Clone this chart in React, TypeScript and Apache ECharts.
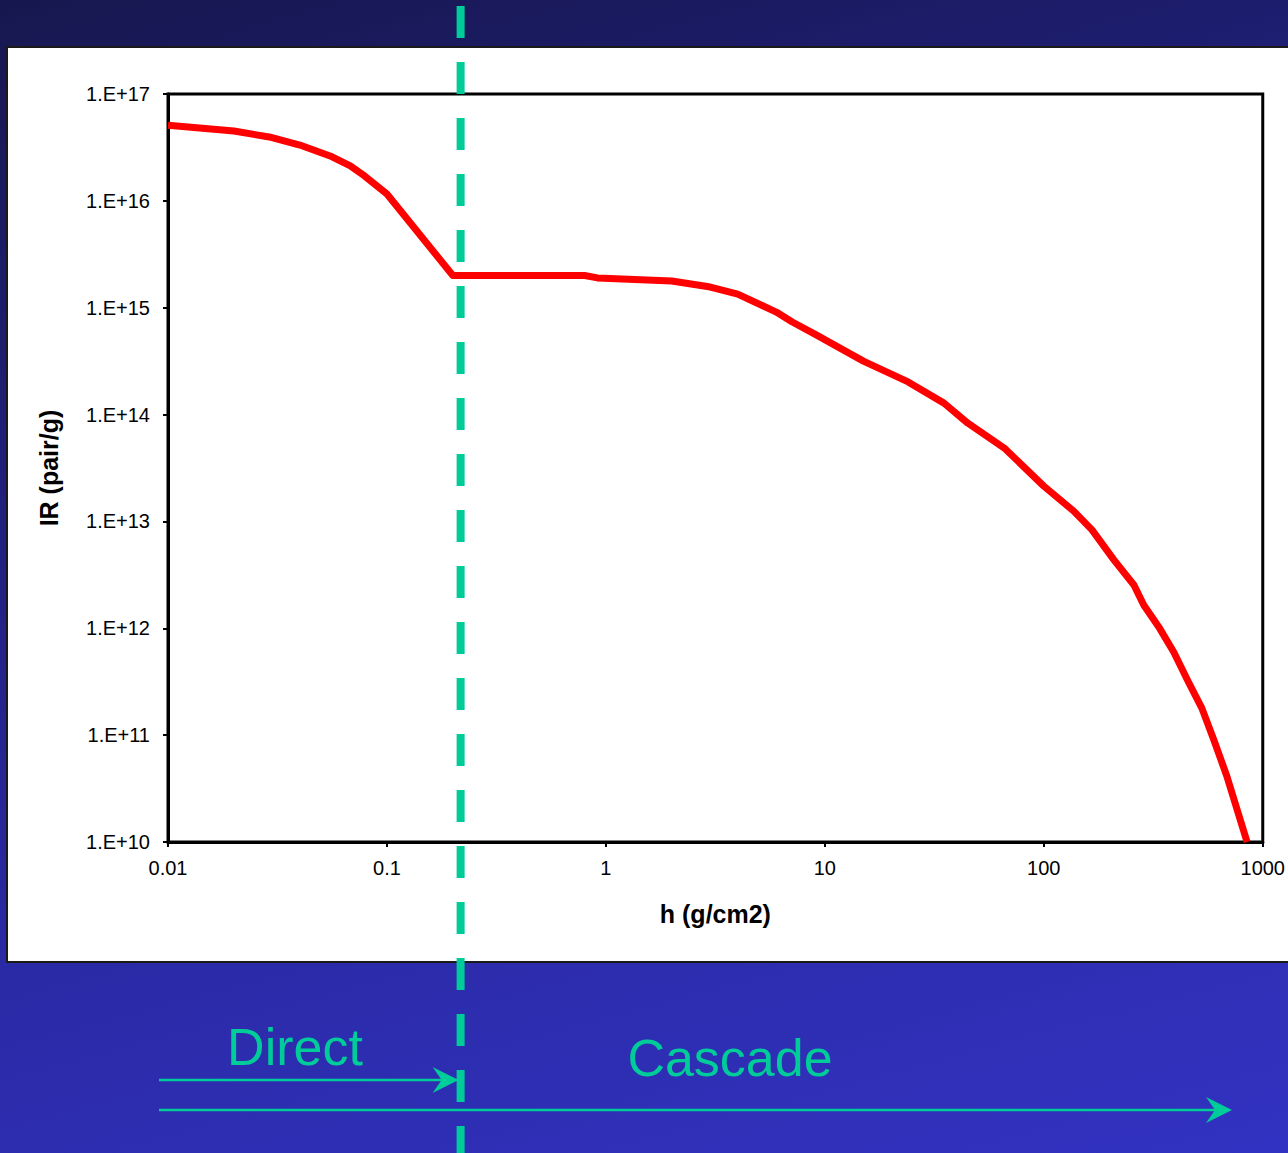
import React, { useEffect, useRef } from 'react';
import * as echarts from 'echarts';

// ---- data ----
const hValues = [0.01, 0.02, 0.029, 0.04, 0.055, 0.068, 0.079, 0.1, 0.2, 0.8, 0.915, 2, 3, 4, 6, 7.1, 9, 15, 24, 35, 45, 66, 100, 137, 166, 209, 258, 286, 335, 392, 460, 527, 598, 685, 777, 848];
const irValues = [5.1e16, 4.5e16, 3.96e16, 3.33e16, 2.63e16, 2.12e16, 1.71e16, 1.16e16, 2.0e15, 2.0e15, 1.9e15, 1.78e15, 1.56e15, 1.34e15, 9.1e14, 7.35e14, 5.67e14, 3.16e14, 2.02e14, 1.28e14, 8.3e13, 4.86e13, 2.14e13, 1.25e13, 8.33e12, 4.37e12, 2.54e12, 1.65e12, 1.03e12, 6.0e11, 3.08e11, 1.79e11, 9.0e10, 4.15e10, 1.79e10, 1.0e10];
const xTickLabels = ['0.01', '0.1', '1', '10', '100', '1000'];
const yTickLabels = ['1.E+10', '1.E+11', '1.E+12', '1.E+13', '1.E+14', '1.E+15', '1.E+16', '1.E+17'];
const boundaryH = 0.217;
const xRange = [0.01, 1000];
const yRange = [1e10, 1e17];
const xTitle = 'h (g/cm2)';
const yTitle = 'IR (pair/g)';
const leftLabel = 'Direct';
const rightLabel = 'Cascade';

const TEAL = '#00cc99';
const FONT = '"Liberation Sans", Arial, sans-serif';

export default function App() {
  const ref = useRef<HTMLDivElement>(null);
  useEffect(() => {
    const chart = echarts.init(ref.current!, null, { renderer: 'svg', width: 1288, height: 1153 });
    const data = hValues.map((h, i) => [h, irValues[i]]);
    chart.setOption({
      animation: false,
      backgroundColor: 'transparent',
      grid: {
        left: 168, top: 94, width: 1096, height: 748,
        show: true, backgroundColor: '#ffffff', borderColor: '#000000', borderWidth: 3,
        containLabel: false,
      },
      xAxis: {
        type: 'log', logBase: 10, min: xRange[0], max: xRange[1],
        name: xTitle, nameLocation: 'middle', nameGap: 59,
        nameTextStyle: { fontFamily: FONT, fontSize: 25, fontWeight: 'bold', color: '#000' },
        axisLine: { show: true, lineStyle: { color: '#000', width: 3 } },
        axisTick: { show: true, inside: false, length: 5, lineStyle: { color: '#000', width: 2 } },
        minorTick: { show: false },
        splitLine: { show: false },
        axisLabel: {
          fontFamily: FONT, fontSize: 20, color: '#000', margin: 16, showMaxLabel: true, showMinLabel: true,
          formatter: (v: number) => xTickLabels[Math.round(Math.log10(v)) + 2] ?? '',
        },
      },
      yAxis: {
        type: 'log', logBase: 10, min: yRange[0], max: yRange[1],
        name: yTitle, nameLocation: 'middle', nameGap: 107, nameRotate: 90,
        nameTextStyle: { fontFamily: FONT, fontSize: 25, fontWeight: 'bold', color: '#000' },
        axisLine: { show: true, lineStyle: { color: '#000', width: 3 } },
        axisTick: { show: true, inside: false, length: 5, lineStyle: { color: '#000', width: 2 } },
        splitLine: { show: false },
        axisLabel: {
          fontFamily: FONT, fontSize: 20, color: '#000', margin: 18,
          formatter: (v: number) => yTickLabels[Math.round(Math.log10(v)) - 10] ?? '',
        },
      },
      series: [{
        type: 'line', data, showSymbol: false, symbol: 'none', smooth: false,
        lineStyle: { color: '#ff0000', width: 7, join: 'round' },
        clip: true, z: 5,
      }],
    });

    const bx = chart.convertToPixel({ xAxisIndex: 0 }, boundaryH) as number;
    const startX = 159;
    const cascadeEnd = 1232;
    const yDirect = 1080;
    const yCascade = 1110;
    const arrowHead = (tipX: number, y: number) => ({
      type: 'polygon', z: 50,
      shape: { points: [[tipX, y], [tipX - 26, y - 13], [tipX - 17, y], [tipX - 26, y + 13]] },
      style: { fill: TEAL },
    });

    chart.setOption({
      graphic: [
        {
          type: 'rect', z: -10, silent: true,
          shape: { x: 7, y: 47, width: 1300, height: 915 },
          style: { fill: '#ffffff', stroke: '#1a1a1a', lineWidth: 2 },
        },
        {
          type: 'line', z: 60, silent: true,
          shape: { x1: bx, y1: 0, x2: bx, y2: 1153 },
          style: { stroke: TEAL, lineWidth: 8, lineDash: [32, 24], lineDashOffset: 50 },
        },
        {
          type: 'line', z: 50,
          shape: { x1: startX, y1: yDirect, x2: bx - 6, y2: yDirect },
          style: { stroke: TEAL, lineWidth: 2.5 },
        },
        arrowHead(bx - 2, yDirect),
        {
          type: 'line', z: 50,
          shape: { x1: startX, y1: yCascade, x2: cascadeEnd - 6, y2: yCascade },
          style: { stroke: TEAL, lineWidth: 2.5 },
        },
        arrowHead(cascadeEnd, yCascade),
        {
          type: 'text', z: 50, x: 295, y: 1047,
          style: { text: leftLabel, fill: TEAL, font: `52px ${FONT}`, align: 'center', verticalAlign: 'middle' },
        },
        {
          type: 'text', z: 50, x: 730, y: 1058,
          style: { text: rightLabel, fill: TEAL, font: `52px ${FONT}`, align: 'center', verticalAlign: 'middle' },
        },
      ],
    });
    return () => chart.dispose();
  }, []);
  return (
    <div
      ref={ref}
      style={{
        position: 'fixed', left: 0, top: 0, width: 1288, height: 1153,
        background: 'linear-gradient(165deg, #17174f 0%, #1f1f78 30%, #2a2aa6 65%, #3232c2 100%)',
      }}
    />
  );
}
